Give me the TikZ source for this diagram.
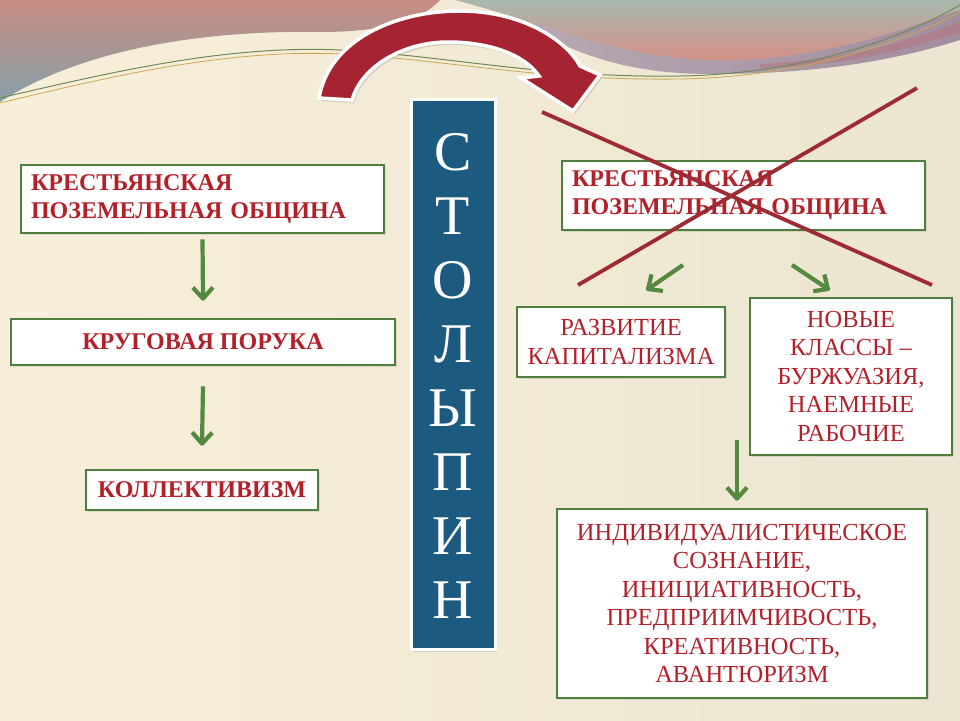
\documentclass[tikz,border=0pt]{standalone}
\usepackage{fontspec}
\setmainfont{Liberation Serif}
\usetikzlibrary{arrows.meta,shadows,calc}
\definecolor{creamL}{HTML}{F8EFDA}
\definecolor{creamR}{HTML}{EBE5D1}
\definecolor{pinkA}{HTML}{C88D82}
\definecolor{blueA}{HTML}{86A0A8}
\definecolor{greyG}{HTML}{A9B8AE}
\definecolor{pinkB}{HTML}{D48F86}
\definecolor{bandL}{HTML}{B8AAB4}
\definecolor{bandR}{HTML}{A28D9E}
\definecolor{mauve}{HTML}{B27A86}
\definecolor{lineG}{HTML}{6F8A55}
\definecolor{lineY}{HTML}{C9A84E}
\definecolor{arrowred}{HTML}{A62431}
\definecolor{crossred}{HTML}{9E2B33}
\definecolor{boxgreen}{HTML}{4F7F3F}
\definecolor{textred}{HTML}{B3202A}
\definecolor{arrowgreen}{HTML}{55893F}
\definecolor{colblue}{HTML}{1D5A80}
\newcommand{\greenarrow}[2]{%
  \draw[gline] (#1) -- (#2);
  \draw[gline] ($(#2)!15pt!42:(#1)$) -- (#2) -- ($(#2)!15pt!-42:(#1)$);}
\begin{document}
\begin{tikzpicture}[x=1pt,y=-1pt,
  boxbase/.style={draw=boxgreen, line width=2.8pt, fill=white, inner sep=0pt,
    text=textred, drop shadow={opacity=0.2, shadow xshift=2pt, shadow yshift=-2pt}},
  lbox/.style={boxbase, align=center, font=\fontsize{24}{28}\selectfont\bfseries},
  rbox/.style={boxbase, align=center, font=\fontsize{24.5}{28.5}\selectfont},
  gline/.style={draw=arrowgreen, line width=4.2pt, line join=round},
  crossline/.style={draw=crossred, line width=3.8pt},
  colletter/.style={anchor=base, text=white, inner sep=0pt, font=\fontsize{56}{56}\selectfont}]
\useasboundingbox (0,0) rectangle (960,720);
% background
\shade[left color=creamL, right color=creamR] (0,0) rectangle (960,720);
\shade[top color=pinkA, bottom color=blueA]
  (0,0) -- (440,0) .. controls (420,22) and (380,32) .. (320,32)
  .. controls (200,30) and (80,50) .. (0,102) -- cycle;
\shade[left color=bandL, right color=bandR]
  (500,8) .. controls (560,50) and (620,74) .. (710,74)
  .. controls (800,74) and (880,65) .. (960,40) -- (960,0) -- (500,0) -- cycle;
\fill[mauve, opacity=0.7]
  (760,64) .. controls (850,60) and (910,40) .. (960,22) -- (960,32)
  .. controls (900,52) and (840,66) .. (760,68) -- cycle;
\shade[top color=greyG, bottom color=pinkB]
  (455,0) .. controls (540,22) and (620,58) .. (710,60)
  .. controls (820,62) and (900,30) .. (960,10) -- (960,0) -- cycle;
\draw[lineG, line width=1pt]
  (0,98) .. controls (120,70) and (230,45) .. (340,50)
  .. controls (450,56) and (540,78) .. (680,76)
  .. controls (800,74) and (900,40) .. (960,5);
\draw[lineY, line width=0.8pt]
  (0,103) .. controls (120,74) and (230,49) .. (342,54)
  .. controls (450,60) and (540,81) .. (680,79)
  .. controls (800,77) and (900,44) .. (960,12);
% curved arrow
\path[fill=arrowred, draw=white, line width=3.5pt, line join=miter,
  drop shadow={opacity=0.25, shadow xshift=2pt, shadow yshift=-3pt}]
  (319,98) .. controls (329,40) and (395,11) .. (460,11)
  .. controls (522,11) and (566,40) .. (580,66) -- (600,75) -- (573,111)
  -- (521,78) -- (539,76) .. controls (525,55) and (490,42) .. (448,42)
  .. controls (405,42) and (362,65) .. (352,100) -- cycle;
% column
\node[draw=white, line width=3pt, fill=colblue, minimum width=84pt,
  minimum height=550pt, inner sep=0pt,
  drop shadow={opacity=0.25, shadow xshift=2pt, shadow yshift=-2pt}] (col) at (453,374.5) {};
\foreach \ch [count=\i] in {С,Т,О,Л,Ы,П,И,Н}
  \node[colletter] (L\i) at (453,{170+64*(\i-1)}) {\ch};
% left column of boxes
\node[lbox, align=left, text width=343pt, inner xsep=10pt, minimum height=68pt] (b1) at (202.5,199)
  {КРЕСТЬЯНСКАЯ\\ПОЗЕМЕЛЬНАЯ ОБЩИНА};
\node[lbox, minimum width=384pt, minimum height=46pt] (b2) at (203,342) {КРУГОВАЯ ПОРУКА};
\node[lbox, minimum width=232pt, minimum height=40pt] (b3) at (202,490) {КОЛЛЕКТИВИЗМ};
\coordinate (a1s) at ([yshift=-5pt]b1.south);
\coordinate (a1e) at ([yshift=19pt]b2.north);
\coordinate (a2s) at ([yshift=-20pt]b2.south);
\coordinate (a2e) at ([yshift=25pt]b3.north);
\greenarrow{a1s}{a1e}
\greenarrow{a2s}{a2e}
% right side
\node[lbox, align=left, text width=343pt, inner xsep=10pt, minimum height=69pt] (r1) at (743.5,195.5)
  {КРЕСТЬЯНСКАЯ\\ПОЗЕМЕЛЬНАЯ ОБЩИНА};
\coordinate (xA1) at (542,112);
\coordinate (xA2) at (932,285);
\coordinate (xB1) at (917,88);
\coordinate (xB2) at (578,285);
\draw[crossline] (xA1) -- (xA2);
\draw[crossline] (xB1) -- (xB2);
\node[rbox, minimum width=208pt, minimum height=70pt] (r2) at (621,342) {РАЗВИТИЕ\\КАПИТАЛИЗМА};
\node[rbox, minimum width=202pt, minimum height=157pt] (r3) at (851,376.5)
  {НОВЫЕ\\КЛАССЫ –\\БУРЖУАЗИЯ,\\НАЕМНЫЕ\\РАБОЧИЕ};
\node[rbox, minimum width=370pt, minimum height=189pt] (r4) at (742,603.5)
  {ИНДИВИДУАЛИСТИЧЕСКОЕ\\СОЗНАНИЕ,\\ИНИЦИАТИВНОСТЬ,\\ПРЕДПРИИМЧИВОСТЬ,\\КРЕАТИВНОСТЬ,\\АВАНТЮРИЗМ};
\coordinate (gL1) at (683,265);
\coordinate (gL2) at (648,289);
\coordinate (gR1) at (792,265);
\coordinate (gR2) at (828,289);
\greenarrow{gL1}{gL2}
\greenarrow{gR1}{gR2}
\coordinate (gD1) at (737,440);
\coordinate (gD2) at ([yshift=9pt]gD1 |- r4.north);
\greenarrow{gD1}{gD2}
\end{tikzpicture}
\end{document}
